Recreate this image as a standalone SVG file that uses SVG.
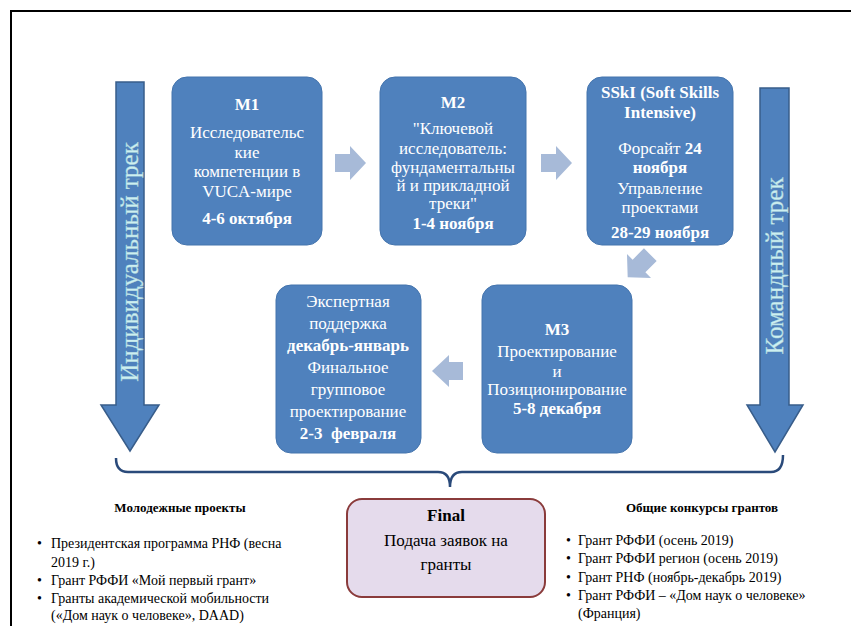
<svg xmlns="http://www.w3.org/2000/svg" width="851" height="626" viewBox="0 0 851 626">
<defs>
<style>
.box{fill:#4f81bd;stroke:#4474ad;stroke-width:1}
.big{fill:#4f81bd;stroke:#385d8a;stroke-width:1.5}
.la{fill:#a7bad8}
.t{fill:#fff;text-anchor:middle;font-size:17px}
.b{font-weight:bold}
.k{fill:#000;font-size:14px}
.h{fill:#000;font-size:13px;font-weight:bold;text-anchor:middle}
.rot{fill:#cdeff1;font-size:25px;text-anchor:middle;stroke:#a9d4da;stroke-width:0.4}
.dk{fill:#000}
text{font-family:Liberation Serif,Tinos,Times New Roman,Times,Noto Serif,DejaVu Serif,FreeSerif,Nimbus Roman,serif}
</style>
</defs>
<rect x="0" y="0" width="851" height="626" fill="#fff"/>
<path d="M11,626 V11 H851" fill="none" stroke="#000" stroke-width="2"/>

<g id="track-individual">
<path class="big" d="M116,82 H144 V405 H159 L130,451 L101,405 H116 Z"/>
<text class="rot" transform="translate(138,262) rotate(-90)">Индивидуальный трек</text>
</g>
<g id="track-team">
<path class="big" d="M760,88 H789 V405 H803 L775,452 L747,405 H760 Z"/>
<text class="rot" transform="translate(783,266) rotate(-90)">Командный трек</text>
</g>

<g id="m1">
<rect class="box" x="172" y="77" width="150" height="168" rx="15"/>
<text class="t b" x="247" y="110">M1</text>
<text class="t" x="247" y="138" font-size="18">Исследовательс</text>
<text class="t" x="247" y="158" font-size="18">кие</text>
<text class="t" x="247" y="177" font-size="18">компетенции в</text>
<text class="t" x="247" y="197" font-size="18">VUCA-мире</text>
<text class="t b" x="247" y="224">4-6 октября</text>
</g>

<g id="m2">
<rect class="box" x="380" y="77" width="146" height="168" rx="15"/>
<text class="t b" x="453" y="108">M2</text>
<text class="t" x="453" y="134">"Ключевой</text>
<text class="t" x="453" y="154">исследователь:</text>
<text class="t" x="453" y="173">фундаментальны</text>
<text class="t" x="453" y="191">й и прикладной</text>
<text class="t" x="453" y="209">треки"</text>
<text class="t b" x="453" y="229">1-4 ноября</text>
</g>

<g id="sski">
<rect class="box" x="587" y="77" width="146" height="168" rx="15"/>
<text class="t b" x="660" y="98">SSkI (Soft Skills</text>
<text class="t b" x="660" y="118">Intensive)</text>
<text class="t" x="660" y="154">Форсайт <tspan class="b">24</tspan></text>
<text class="t b" x="660" y="173">ноября</text>
<text class="t" x="660" y="194">Управление</text>
<text class="t" x="660" y="213">проектами</text>
<text class="t b" x="660" y="238">28-29 ноября</text>
</g>

<g id="m3">
<rect class="box" x="482" y="285" width="150" height="168" rx="15"/>
<text class="t b" x="557" y="335">M3</text>
<text class="t" x="557" y="357">Проектирование</text>
<text class="t" x="557" y="377">и</text>
<text class="t" x="557" y="395">Позиционирование</text>
<text class="t b" x="557" y="414">5-8 декабря</text>
</g>

<g id="expert">
<rect class="box" x="276" y="285" width="145" height="168" rx="15"/>
<text class="t" x="348" y="307">Экспертная</text>
<text class="t" x="348" y="329">поддержка</text>
<text class="t b" x="348" y="351">декабрь-январь</text>
<text class="t" x="348" y="373">Финальное</text>
<text class="t" x="348" y="395">групповое</text>
<text class="t" x="348" y="417">проектирование</text>
<text class="t b" x="348" y="439" xml:space="preserve">2-3  февраля</text>
</g>

<g id="final">
<rect x="347" y="499" width="198" height="98" rx="15" fill="#e5dbec" stroke="#8a3b3b" stroke-width="2"/>
<text class="t b dk" x="446" y="521" font-size="20">Final</text>
<text class="t dk" x="446" y="546" font-size="19">Подача заявок на</text>
<text class="t dk" x="446" y="570" font-size="19">гранты</text>
</g>

<g id="youth-list">
<text class="h" x="180" y="512">Молодежные проекты</text>
<text class="k" x="37" y="548">•</text>
<text class="k" x="51" y="548">Президентская программа РНФ (весна</text>
<text class="k" x="51" y="567">2019 г.)</text>
<text class="k" x="37" y="585">•</text>
<text class="k" x="51" y="585">Грант РФФИ «Мой первый грант»</text>
<text class="k" x="37" y="603">•</text>
<text class="k" x="51" y="603">Гранты академической мобильности</text>
<text class="k" x="51" y="620">(«Дом наук о человеке», DAAD)</text>
</g>

<g id="general-list">
<text class="h" x="702" y="512">Общие конкурсы грантов</text>
<text class="k" x="566" y="545">•</text>
<text class="k" x="578" y="545">Грант РФФИ (осень 2019)</text>
<text class="k" x="566" y="563">•</text>
<text class="k" x="578" y="563">Грант РФФИ регион (осень 2019)</text>
<text class="k" x="566" y="582">•</text>
<text class="k" x="578" y="582">Грант РНФ (ноябрь-декабрь 2019)</text>
<text class="k" x="566" y="600">•</text>
<text class="k" x="578" y="600">Грант РФФИ – «Дом наук о человеке»</text>
<text class="k" x="578" y="618">(Франция)</text>
</g>

<g id="connectors">
<path class="la" d="M335,154 H350 V146 L366,163 L350,180 V172 H335 Z"/>
<path class="la" d="M541,154 H556 V146 L572,163 L556,180 V172 H541 Z"/>
<path class="la" transform="translate(639,266) rotate(135)" d="M-16,-9 H0 V-17 L16,0 L0,17 V9 H-16 Z"/>
<path class="la" d="M463,362 H449 V355 L432,371 L449,387 V380 H463 Z"/>
<path d="M116,458 Q116,472 128,472 H438 Q450,472 450,487 Q450,472 462,472 H771 Q783,472 783,455" fill="none" stroke="#2a4a7a" stroke-width="2.5"/>
</g>
</svg>
